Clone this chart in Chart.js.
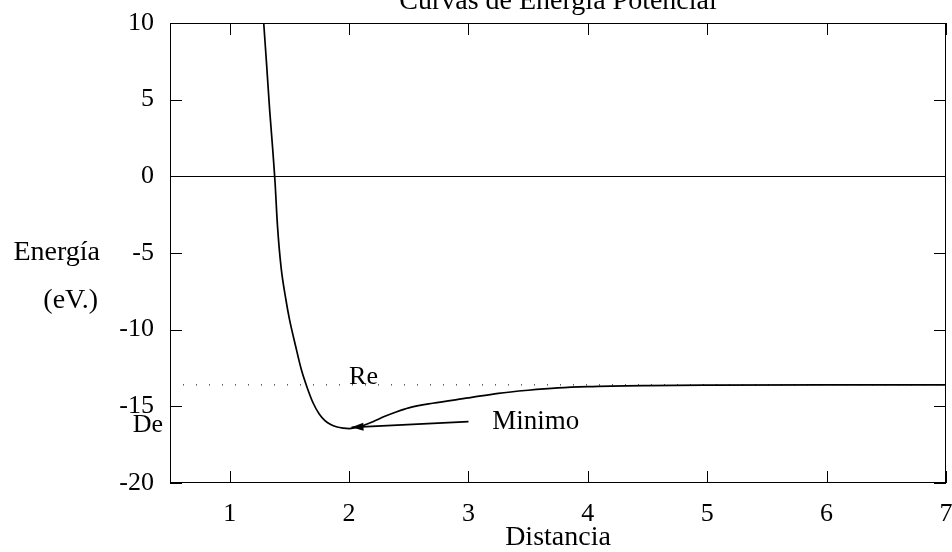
<!DOCTYPE html>
<html>
<head>
<meta charset="utf-8">
<script src="https://cdn.jsdelivr.net/npm/chart.js@4.4.1/dist/chart.umd.min.js"></script>
<style>
  body { margin: 0; background: #fff; }
</style>
</head>
<body>
<canvas id="container" width="952" height="552"></canvas>
<script>
// curva de energia potencial
const distancia = [1.285, 1.31, 1.335, 1.36, 1.38, 1.40, 1.43, 1.47, 1.50, 1.55, 1.60, 1.65, 1.70, 1.75, 1.80, 1.85, 1.90, 1.95, 2.00,
                   2.10, 2.20, 2.30, 2.40, 2.50, 2.70, 3.00, 3.25, 3.50, 3.75, 4.00, 4.50, 5.00, 6.00, 7.00];
const energia = [10, 7.2, 4.3, 1.8, -0.4, -3.2, -5.9, -8.0, -9.3, -11.0, -12.6, -13.8, -14.8, -15.5, -15.95, -16.2, -16.35, -16.42, -16.45,
                 -16.3, -16.0, -15.65, -15.35, -15.1, -14.8, -14.45, -14.15, -13.95, -13.8, -13.72, -13.65, -13.62, -13.6, -13.6];
const asintota = -13.6;
const flechaX = [3.0, 2.02];
const flechaY = [-16.0, -16.37];
const xTicks = [1, 2, 3, 4, 5, 6, 7];
const yTicks = [-20, -15, -10, -5, 0, 5, 10];

const FONT = '"Liberation Serif", "DejaVu Serif", serif';
Chart.defaults.font.family = FONT;
Chart.defaults.font.size = 26;
Chart.defaults.color = '#000';

const marco = {
  id: 'marco',
  afterDraw(chart) {
    const ctx = chart.ctx, a = chart.chartArea;
    const sx = chart.scales.x, sy = chart.scales.y;
    ctx.save();
    ctx.strokeStyle = '#000';
    ctx.lineWidth = 1;
    ctx.strokeRect(a.left + 0.5, a.top + 0.5, a.right - a.left - 1, a.bottom - a.top - 1);
    ctx.beginPath();
    xTicks.forEach(v => {
      const px = Math.round(sx.getPixelForValue(v)) + 0.5;
      ctx.moveTo(px, a.bottom); ctx.lineTo(px, a.bottom - 12);
      ctx.moveTo(px, a.top); ctx.lineTo(px, a.top + 12);
    });
    yTicks.forEach(v => {
      const py = Math.round(sy.getPixelForValue(v)) + 0.5;
      ctx.moveTo(a.left, py); ctx.lineTo(a.left + 12, py);
      ctx.moveTo(a.right, py); ctx.lineTo(a.right - 12, py);
    });
    ctx.stroke();

    // punta de flecha
    const meta = chart.getDatasetMeta(2);
    const p0 = meta.data[0], p1 = meta.data[1];
    const ang = Math.atan2(p1.y - p0.y, p1.x - p0.x);
    ctx.fillStyle = '#000';
    ctx.beginPath();
    ctx.moveTo(p1.x, p1.y);
    ctx.lineTo(p1.x - 12 * Math.cos(ang) + 4 * Math.sin(ang), p1.y - 12 * Math.sin(ang) - 4 * Math.cos(ang));
    ctx.lineTo(p1.x - 12 * Math.cos(ang) - 4 * Math.sin(ang), p1.y - 12 * Math.sin(ang) + 4 * Math.cos(ang));
    ctx.closePath();
    ctx.fill();

    // textos
    ctx.font = '28px ' + FONT;
    ctx.textAlign = 'center';
    ctx.textBaseline = 'alphabetic';
    ctx.fillText('Curvas de Energía Potencial', (a.left + a.right) / 2, 9);

    ctx.font = '26px ' + FONT;
    ctx.textAlign = 'left';
    ctx.fillText('Re', sx.getPixelForValue(2.0), sy.getPixelForValue(asintota) - 1);
    ctx.textBaseline = 'middle';
    ctx.font = '27px ' + FONT;
    ctx.fillText('Minimo', sx.getPixelForValue(3.2), sy.getPixelForValue(-16.0));

    ctx.textAlign = 'right';
    ctx.font = '26px ' + FONT;
    ctx.fillText('De', a.left - 7, sy.getPixelForValue(-16.25));
    ctx.font = '28px ' + FONT;
    ctx.fillText('Energía', a.left - 70, sy.getPixelForValue(-5));
    ctx.fillText('(eV.)', a.left - 72, sy.getPixelForValue(-5) + 48);
    ctx.restore();
  }
};

new Chart(document.getElementById('container'), {
  type: 'scatter',
  data: {
    datasets: [
      {
        label: 'Energía',
        data: distancia.map((d, i) => ({ x: d, y: energia[i] })),
        showLine: true,
        cubicInterpolationMode: 'monotone',
        borderColor: '#000',
        borderWidth: 1.7,
        pointRadius: 0
      },
      {
        label: 'Re',
        data: [{ x: 0.5, y: asintota }, { x: 7, y: asintota }],
        showLine: true,
        borderColor: '#000',
        borderWidth: 1,
        borderDash: [1, 12],
        pointRadius: 0
      },
      {
        label: 'Minimo',
        data: flechaX.map((d, i) => ({ x: d, y: flechaY[i] })),
        showLine: true,
        borderColor: '#000',
        borderWidth: 1.6,
        pointRadius: 0
      }
    ]
  },
  options: {
    responsive: false,
    animation: false,
    layout: { padding: { top: 23, right: 6, left: 0, bottom: 0 } },
    plugins: { legend: { display: false }, tooltip: { enabled: false }, title: { display: false } },
    scales: {
      x: {
        type: 'linear',
        min: 0.5,
        max: 7,
        afterBuildTicks: s => { s.ticks = xTicks.map(v => ({ value: v })); },
        afterFit: s => { s.height = 69; s.paddingLeft = 0; s.paddingRight = 0; },
        ticks: { padding: 16, maxRotation: 0, autoSkip: false, color: '#000' },
        grid: { drawOnChartArea: false, drawTicks: false },
        border: { display: false },
        title: { display: true, text: 'Distancia', color: '#000', font: { size: 28 }, padding: { top: 0, bottom: -2 } }
      },
      y: {
        type: 'linear',
        min: -20,
        max: 10,
        afterBuildTicks: s => { s.ticks = yTicks.map(v => ({ value: v })); },
        afterFit: s => { s.width = 170; s.paddingTop = 0; s.paddingBottom = 0; },
        ticks: { padding: 16, color: '#000' },
        grid: {
          drawTicks: false,
          color: c => (c.tick && c.tick.value === 0) ? '#000' : 'rgba(0,0,0,0)',
          lineWidth: 1
        },
        border: { display: false }
      }
    }
  },
  plugins: [marco]
});
</script>
</body>
</html>
